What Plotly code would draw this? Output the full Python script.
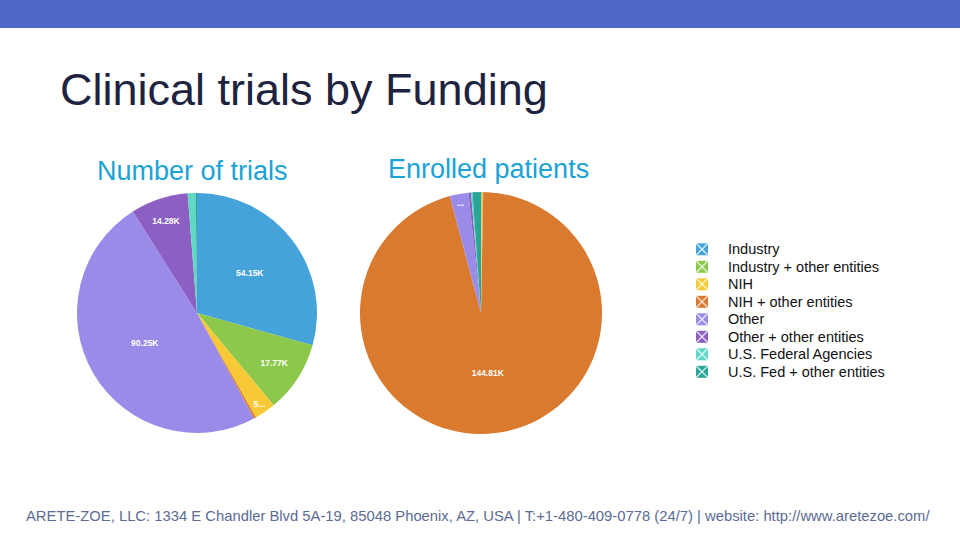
import plotly.graph_objects as go

# Funding categories (same order in both pies, clockwise from 12 o'clock)
categories = [
    "Industry",
    "Industry + other entities",
    "NIH",
    "NIH + other entities",
    "Other",
    "Other + other entities",
    "U.S. Federal Agencies",
    "U.S. Fed + other entities",
]
colors = ["#45a3da", "#8cc84b", "#f7c936", "#d97a2f",
          "#9b8be8", "#8c60c2", "#5fd9c5", "#2ba598"]

# values (unlabeled slices estimated from their angle)
trial_counts = [54150, 17770, 5300, 500, 90250, 14280, 2000, 300]
enrolled_patients = [100, 50, 300, 144810, 3800, 500, 300, 1700]

# how each slice label is shown: full value, cut short ("5..."), or hidden
trial_label_mode = ["full", "full", "cut", "", "full", "full", "", ""]
patient_label_mode = ["", "", "", "full", "dots", "", "", ""]


def slice_text(values, modes):
    out = []
    for v, m in zip(values, modes):
        s = f"{v / 1000:.2f}K"
        if m == "full":
            out.append(s)
        elif m == "cut":
            out.append(s[0] + "...")
        elif m == "dots":
            out.append("...")
        else:
            out.append("")
    return out


def px_x(x):
    return x / 960


def px_y(y):
    return 1 - y / 540


fig = go.Figure()

for vals, modes, dom in [
    (trial_counts, trial_label_mode, ([77, 317], [193, 433])),
    (enrolled_patients, patient_label_mode, ([360, 602], [192, 434])),
]:
    fig.add_trace(go.Pie(
        labels=categories,
        values=vals,
        text=slice_text(vals, modes),
        textinfo="text",
        textposition="inside",
        insidetextorientation="horizontal",
        textfont=dict(color="white", size=8.5, family="Liberation Sans",
                      weight="bold"),
        marker=dict(colors=colors, line=dict(width=0)),
        sort=False,
        direction="clockwise",
        rotation=0,
        domain=dict(x=[px_x(dom[0][0]), px_x(dom[0][1])],
                    y=[px_y(dom[1][1]), px_y(dom[1][0])]),
        hoverinfo="label+value",
        showlegend=False,
    ))

# top band
shapes = [dict(type="rect", xref="paper", yref="paper",
               x0=0, x1=1, y0=px_y(28), y1=1,
               fillcolor="#4f68c8", line=dict(width=0))]

annotations = [
    dict(text="Clinical trials by Funding", x=px_x(58), y=px_y(90),
         xanchor="left", yanchor="middle", font=dict(size=45, color="#1e2340")),
    dict(text="Number of trials", x=px_x(192), y=px_y(171),
         xanchor="center", yanchor="middle", font=dict(size=27, color="#1ba2d6")),
    dict(text="Enrolled patients", x=px_x(488), y=px_y(169),
         xanchor="center", yanchor="middle", font=dict(size=27, color="#1ba2d6")),
    dict(text="ARETE-ZOE, LLC: 1334 E Chandler Blvd 5A-19, 85048 Phoenix, AZ, USA"
              " | T:+1-480-409-0778 (24/7) | website: http://www.aretezoe.com/",
         x=px_x(478), y=px_y(516), xanchor="center", yanchor="middle",
         font=dict(size=14.8, color="#5b6b94")),
]

# hand-made legend: icon = coloured square with white diagonals
row0, row_gap = 249.3, 17.5
for i, (name, c) in enumerate(zip(categories, colors)):
    yc = row0 + i * row_gap
    x0, x1, y0, y1 = 696, 708, yc - 6, yc + 6
    shapes.append(dict(type="rect", xref="paper", yref="paper",
                       x0=px_x(x0), x1=px_x(x1), y0=px_y(y1), y1=px_y(y0),
                       fillcolor=c, line=dict(width=0)))
    for (a, b), (p, q) in [((x0, y0), (x1, y1)), ((x0, y1), (x1, y0))]:
        shapes.append(dict(type="line", xref="paper", yref="paper",
                           x0=px_x(a), y0=px_y(b), x1=px_x(p), y1=px_y(q),
                           line=dict(color="rgba(255,255,255,0.75)", width=1.5)))
    annotations.append(dict(text=name, x=px_x(726), y=px_y(yc),
                            xanchor="left", yanchor="middle",
                            font=dict(size=14.5, color="#111111")))

for a in annotations:
    a.update(xref="paper", yref="paper", showarrow=False)

fig.update_layout(
    width=960,
    height=540,
    margin=dict(l=0, r=0, t=0, b=0),
    paper_bgcolor="white",
    plot_bgcolor="white",
    font=dict(family="Liberation Sans, Arial, sans-serif"),
    showlegend=False,
    shapes=shapes,
    annotations=annotations,
)

fig.write_html("out.html", config={"displayModeBar": False},
               post_script="document.body.style.margin='0';")
